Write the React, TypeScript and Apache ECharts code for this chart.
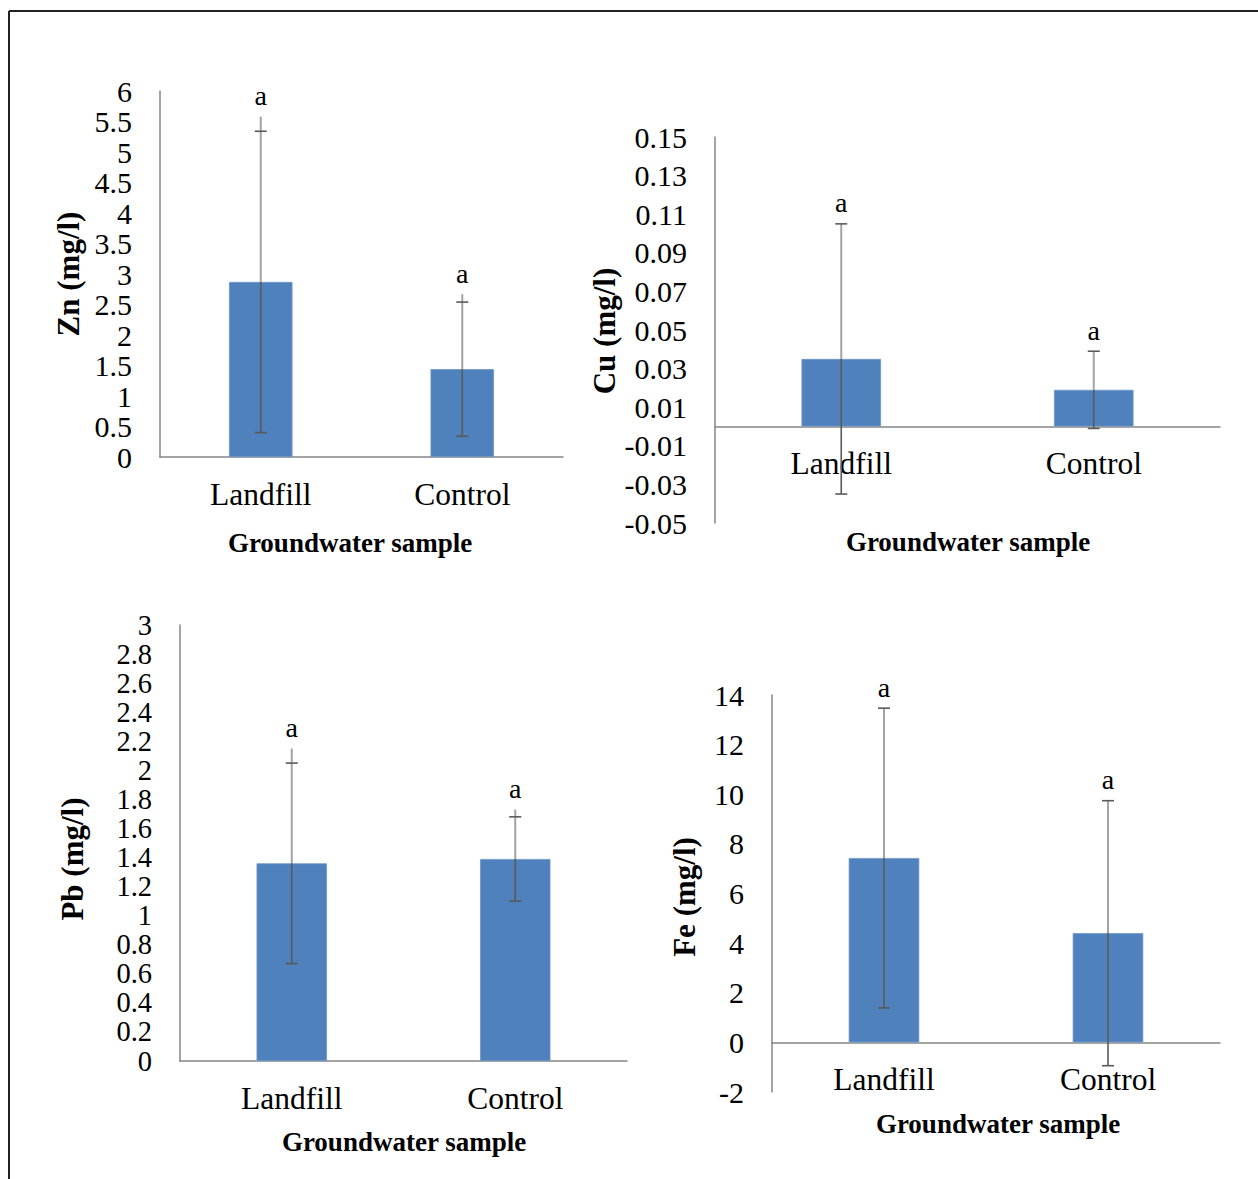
import React, { useEffect, useRef } from "react";
import * as echarts from "echarts";

const categories = ["Landfill", "Control"];
const letters = ["a", "a"];

const znMean = [2.87, 1.44];
const znSD = [2.47, 1.1];
const znWhiskerTop = [5.58, 2.67];
const znTicks = [0, 0.5, 1, 1.5, 2, 2.5, 3, 3.5, 4, 4.5, 5, 5.5, 6];

const cuMean = [0.035, 0.019];
const cuSD = [0.07, 0.02];
const cuWhiskerTop = [0.105, 0.039];
const cuTicks = [-0.05, -0.03, -0.01, 0.01, 0.03, 0.05, 0.07, 0.09, 0.11, 0.13, 0.15];

const pbMean = [1.36, 1.39];
const pbSD = [0.69, 0.29];
const pbWhiskerTop = [2.15, 1.73];
const pbTicks = [0, 0.2, 0.4, 0.6, 0.8, 1, 1.2, 1.4, 1.6, 1.8, 2, 2.2, 2.4, 2.6, 2.8, 3];

const feMean = [7.43, 4.4];
const feSD = [6.04, 5.34];
const feWhiskerTop = [13.47, 9.74];
const feTicks = [-2, 0, 2, 4, 6, 8, 10, 12, 14];

const FONT = '"Liberation Serif", "Times New Roman", serif';
const BAR = "#4F81BD";
const AXIS = "#868686";

const panels = [
  { mean: znMean, sd: znSD, top: znWhiskerTop, ticks: znTicks, name: "Zn (mg/l)", grid: { left: 160, top: 91, width: 403, height: 366 }, yTitle: [68, 274], xTitle: [350, 543], fixed: false, tickFont: 30 },
  { mean: cuMean, sd: cuSD, top: cuWhiskerTop, ticks: cuTicks, name: "Cu (mg/l)", grid: { left: 715, top: 137, width: 505, height: 386 }, yTitle: [604, 331], xTitle: [968, 542], fixed: true, tickFont: 30 },
  { mean: pbMean, sd: pbSD, top: pbWhiskerTop, ticks: pbTicks, name: "Pb (mg/l)", grid: { left: 180, top: 625, width: 447, height: 436 }, yTitle: [72, 859], xTitle: [404, 1142], fixed: false, tickFont: 28.5 },
  { mean: feMean, sd: feSD, top: feWhiskerTop, ticks: feTicks, name: "Fe (mg/l)", grid: { left: 772, top: 695, width: 448, height: 397 }, yTitle: [684, 897], xTitle: [998, 1124], fixed: false, tickFont: 30 },
];

function renderErr(params: any, api: any) {
  const cat = api.value(0);
  const low = api.coord([cat, api.value(1)]);
  const cap = api.coord([cat, api.value(2)]);
  const top = api.coord([cat, api.value(3)]);
  const mid = api.coord([cat, api.value(4)]);
  const x = low[0];
  const hw = 6;
  return {
    type: "group",
    children: [
      { type: "line", shape: { x1: x, y1: top[1], x2: x, y2: mid[1] }, style: { stroke: "#a3a3a3", lineWidth: 2 } },
      { type: "line", shape: { x1: x, y1: mid[1], x2: x, y2: low[1] }, style: { stroke: "#5a5a5a", lineWidth: 1.6 } },
      { type: "line", shape: { x1: x - hw, y1: cap[1], x2: x + hw, y2: cap[1] }, style: { stroke: "#5a5a5a", lineWidth: 1.6 } },
      { type: "line", shape: { x1: x - hw, y1: low[1], x2: x + hw, y2: low[1] }, style: { stroke: "#5a5a5a", lineWidth: 1.6 } },
      {
        type: "text",
        x: x,
        y: top[1] - 7,
        style: { text: letters[params.dataIndex], fontSize: 28, fontFamily: FONT, fill: "#000", align: "center", verticalAlign: "bottom" },
      },
    ],
  };
}

export default function App() {
  const ref = useRef<HTMLDivElement>(null);
  useEffect(() => {
    if (!ref.current) return;
    const chart = echarts.init(ref.current, undefined, { renderer: "svg" });
    const grid: any[] = [];
    const xAxis: any[] = [];
    const yAxis: any[] = [];
    const series: any[] = [];
    const graphic: any[] = [
      { type: "line", shape: { x1: 9, y1: 11, x2: 1258, y2: 11 }, style: { stroke: "#222", lineWidth: 2 } },
      { type: "line", shape: { x1: 9, y1: 11, x2: 9, y2: 1179 }, style: { stroke: "#222", lineWidth: 2 } },
    ];
    panels.forEach((p, i) => {
      const mn = p.ticks[0];
      const mx = p.ticks[p.ticks.length - 1];
      // the category axis sits at value 0: shift it up from the grid bottom
      const zeroOffset = -p.grid.height * ((0 - mn) / (mx - mn));
      grid.push({ ...p.grid, containLabel: false });
      xAxis.push({
        type: "category",
        gridIndex: i,
        data: categories,
        offset: zeroOffset,
        axisLine: { show: true, onZero: false, lineStyle: { color: AXIS, width: 1.5 } },
        axisTick: { show: false },
        axisLabel: { fontSize: 31.5, fontFamily: FONT, color: "#000", margin: 21 },
        splitLine: { show: false },
      });
      const ya: any = {
        type: "value",
        gridIndex: i,
        min: mn,
        max: mx,
        axisLine: { show: true, lineStyle: { color: AXIS, width: 1.5 } },
        axisTick: { show: false, customValues: p.ticks },
        splitLine: { show: false },
        axisLabel: {
          fontSize: p.tickFont,
          fontFamily: FONT,
          color: "#000",
          margin: 28,
          showMinLabel: true,
          showMaxLabel: true,
          hideOverlap: false,
          customValues: p.ticks,
          formatter: (v: number) => (p.fixed ? v.toFixed(2) : String(+v.toFixed(4))),
        },
      };
      yAxis.push(ya);
      series.push({
        type: "bar",
        xAxisIndex: i,
        yAxisIndex: i,
        data: p.mean,
        barWidth: "31.5%",
        itemStyle: { color: BAR, borderColor: "#6c95c8", borderWidth: 0.8 },
        silent: true,
      });
      series.push({
        type: "custom",
        xAxisIndex: i,
        yAxisIndex: i,
        renderItem: renderErr,
        z: 5,
        data: p.mean.map((m, k) => [k, m - p.sd[k], m + p.sd[k], p.top[k], m]),
        silent: true,
      });
      graphic.push({
        type: "text",
        x: p.yTitle[0],
        y: p.yTitle[1],
        rotation: Math.PI / 2,
        style: { text: p.name, fontSize: 31, fontWeight: "bold", fontFamily: FONT, fill: "#000", align: "center", verticalAlign: "middle" },
      });
      graphic.push({
        type: "text",
        x: p.xTitle[0],
        y: p.xTitle[1],
        style: { text: "Groundwater sample", fontSize: 27, fontWeight: "bold", fontFamily: FONT, fill: "#000", align: "center", verticalAlign: "middle" },
      });
    });
    chart.setOption({
      animation: false,
      backgroundColor: "#fff",
      grid,
      xAxis,
      yAxis,
      series,
      graphic,
    });
    return () => chart.dispose();
  }, []);
  return <div ref={ref} style={{ position: "absolute", left: 0, top: 0, width: 1258, height: 1179 }} />;
}
